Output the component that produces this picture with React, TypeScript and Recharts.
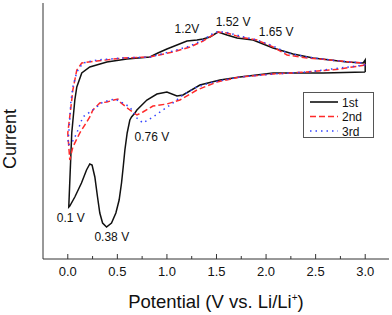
import React from "react";
import { LineChart, Line, XAxis, YAxis, Legend, ReferenceDot } from "recharts";

// potential (V) / current (arb. units), traced clockwise from 3.0 V
const firstCycle = [
  { v: 3.0, i: 0.67 }, { v: 2.576, i: 0.66 }, { v: 2.071, i: 0.66 }, { v: 1.737, i: 0.62 },
  { v: 1.535, i: 0.59 }, { v: 1.333, i: 0.54 }, { v: 1.162, i: 0.44 }, { v: 1.101, i: 0.43 },
  { v: 1.0, i: 0.47 }, { v: 0.899, i: 0.45 }, { v: 0.798, i: 0.39 }, { v: 0.697, i: 0.29 },
  { v: 0.677, i: 0.26 }, { v: 0.643, i: 0.22 }, { v: 0.626, i: 0.19 }, { v: 0.599, i: 0.06 },
  { v: 0.576, i: -0.11 }, { v: 0.559, i: -0.28 }, { v: 0.542, i: -0.44 }, { v: 0.518, i: -0.61 },
  { v: 0.485, i: -0.74 }, { v: 0.441, i: -0.84 }, { v: 0.391, i: -0.88 }, { v: 0.351, i: -0.84 },
  { v: 0.323, i: -0.74 }, { v: 0.3, i: -0.58 }, { v: 0.273, i: -0.38 }, { v: 0.245, i: -0.26 },
  { v: 0.222, i: -0.25 }, { v: 0.189, i: -0.31 }, { v: 0.138, i: -0.44 }, { v: 0.071, i: -0.58 },
  { v: 0.02, i: -0.67 }, { v: 0.01, i: -0.68 }, { v: 0.04, i: 0.06 }, { v: 0.071, i: 0.39 },
  { v: 0.091, i: 0.52 }, { v: 0.141, i: 0.66 }, { v: 0.222, i: 0.72 }, { v: 0.394, i: 0.77 },
  { v: 0.596, i: 0.8 }, { v: 0.828, i: 0.82 }, { v: 0.909, i: 0.86 }, { v: 1.0, i: 0.9 },
  { v: 1.202, i: 0.98 }, { v: 1.303, i: 0.99 }, { v: 1.364, i: 1.0 }, { v: 1.434, i: 1.02 },
  { v: 1.515, i: 1.07 }, { v: 1.606, i: 1.04 }, { v: 1.707, i: 1.01 }, { v: 1.869, i: 0.99 },
  { v: 2.071, i: 0.91 }, { v: 2.273, i: 0.85 }, { v: 2.475, i: 0.81 }, { v: 2.646, i: 0.79 },
  { v: 2.818, i: 0.77 }, { v: 2.98, i: 0.76 }, { v: 3.0, i: 0.79 }, { v: 3.0, i: 0.67 },
];

const secondCycle = [
  { v: 3.0, i: 0.74 }, { v: 2.747, i: 0.7 }, { v: 2.414, i: 0.67 }, { v: 2.071, i: 0.65 },
  { v: 1.737, i: 0.62 }, { v: 1.505, i: 0.57 }, { v: 1.303, i: 0.49 }, { v: 1.131, i: 0.39 },
  { v: 1.0, i: 0.35 }, { v: 0.859, i: 0.33 }, { v: 0.758, i: 0.27 }, { v: 0.697, i: 0.24 },
  { v: 0.626, i: 0.29 }, { v: 0.525, i: 0.37 }, { v: 0.505, i: 0.4 }, { v: 0.394, i: 0.37 },
  { v: 0.323, i: 0.36 }, { v: 0.253, i: 0.29 }, { v: 0.222, i: 0.22 }, { v: 0.121, i: 0.06 },
  { v: 0.051, i: -0.08 }, { v: 0.02, i: -0.21 }, { v: 0.0, i: 0.06 }, { v: 0.04, i: 0.39 },
  { v: 0.051, i: 0.49 }, { v: 0.091, i: 0.69 }, { v: 0.141, i: 0.76 }, { v: 0.293, i: 0.78 },
  { v: 0.556, i: 0.81 }, { v: 0.828, i: 0.82 }, { v: 1.061, i: 0.87 }, { v: 1.232, i: 0.92 },
  { v: 1.364, i: 0.98 }, { v: 1.515, i: 1.07 }, { v: 1.606, i: 1.06 }, { v: 1.737, i: 1.02 },
  { v: 1.909, i: 0.99 }, { v: 2.071, i: 0.92 }, { v: 2.212, i: 0.84 }, { v: 2.414, i: 0.81 },
  { v: 2.646, i: 0.79 }, { v: 2.848, i: 0.77 }, { v: 2.98, i: 0.76 }, { v: 3.0, i: 0.74 },
];

const thirdCycle = [
  { v: 3.0, i: 0.74 }, { v: 2.747, i: 0.71 }, { v: 2.414, i: 0.67 }, { v: 2.071, i: 0.65 },
  { v: 1.737, i: 0.62 }, { v: 1.465, i: 0.57 }, { v: 1.303, i: 0.52 }, { v: 1.162, i: 0.44 },
  { v: 1.061, i: 0.36 }, { v: 0.96, i: 0.29 }, { v: 0.859, i: 0.22 }, { v: 0.758, i: 0.16 },
  { v: 0.697, i: 0.21 }, { v: 0.626, i: 0.32 }, { v: 0.556, i: 0.36 }, { v: 0.475, i: 0.4 },
  { v: 0.354, i: 0.37 }, { v: 0.253, i: 0.29 }, { v: 0.152, i: 0.22 }, { v: 0.091, i: 0.06 },
  { v: 0.04, i: -0.04 }, { v: 0.0, i: -0.06 }, { v: 0.02, i: 0.19 }, { v: 0.03, i: 0.36 },
  { v: 0.051, i: 0.52 }, { v: 0.091, i: 0.67 }, { v: 0.152, i: 0.76 }, { v: 0.293, i: 0.79 },
  { v: 0.556, i: 0.81 }, { v: 0.828, i: 0.82 }, { v: 1.061, i: 0.88 }, { v: 1.232, i: 0.93 },
  { v: 1.364, i: 0.99 }, { v: 1.485, i: 1.07 }, { v: 1.586, i: 1.07 }, { v: 1.737, i: 1.03 },
  { v: 1.909, i: 0.99 }, { v: 2.071, i: 0.93 }, { v: 2.212, i: 0.86 }, { v: 2.414, i: 0.82 },
  { v: 2.646, i: 0.79 }, { v: 2.848, i: 0.77 }, { v: 2.98, i: 0.76 }, { v: 3.0, i: 0.74 },
];

const potentialTicks = [0, 0.25, 0.5, 0.75, 1, 1.25, 1.5, 1.75, 2, 2.25, 2.5, 2.75, 3];

const peakLabels = [
  { v: 1.202, i: 1.1, text: "1.2V" },
  { v: 1.667, i: 1.17, text: "1.52 V" },
  { v: 2.101, i: 1.07, text: "1.65 V" },
  { v: 0.848, i: 0.02, text: "0.76 V" },
  { v: 0.03, i: -0.79, text: "0.1 V" },
  { v: 0.444, i: -0.98, text: "0.38 V" },
];

const series = [
  { name: "1st", data: firstCycle, color: "#111111", dash: undefined as string | undefined },
  { name: "2nd", data: secondCycle, color: "#ff2a2a", dash: "6 3" },
  { name: "3rd", data: thirdCycle, color: "#3344ff", dash: "1.5 4" },
];

const font = '"Liberation Sans", Arial, sans-serif';
const axisColor = "#333";

function PotentialTick(props: any) {
  const { x, y, payload } = props;
  const major = Math.abs(payload.value * 2 - Math.round(payload.value * 2)) < 1e-6;
  return (
    <g>
      <line x1={x} x2={x} y1={y} y2={y - (major ? 5 : 3)} stroke={axisColor} />
      {major && (
        <text x={x} y={y + 17} textAnchor="middle" fontSize={13} fontFamily={font} fill="#111">
          {payload.value.toFixed(1)}
        </text>
      )}
    </g>
  );
}

function LegendBox() {
  return (
    <div style={{ width: 71, height: 46, border: "1px solid #555", boxSizing: "border-box", background: "#fff" }}>
      <svg width={69} height={44}>
        {series.map((s, k) => (
          <g key={s.name}>
            <line x1={6} x2={34} y1={9 + k * 14.5} y2={9 + k * 14.5} stroke={s.color} strokeWidth={1.6} strokeDasharray={s.dash} />
            <text x={38} y={13.5 + k * 14.5} fontSize={12} fontFamily={font} fill="#111">{s.name}</text>
          </g>
        ))}
      </svg>
    </div>
  );
}

export default function App() {
  return (
    <div style={{ position: "fixed", left: 0, top: 0, background: "#fff" }}>
      <LineChart width={392} height={315} margin={{ top: 3, right: 3, bottom: 0, left: 0 }}>
        <XAxis
          dataKey="v"
          type="number"
          domain={[-0.25, 3.24]}
          ticks={potentialTicks}
          interval={0}
          tick={<PotentialTick />}
          tickLine={false}
          tickSize={0}
          tickMargin={0}
          height={56}
          stroke={axisColor}
          allowDataOverflow
          label={({ viewBox }: any) => (
            <text x={viewBox.x + viewBox.width / 2} y={308} textAnchor="middle" fontSize={18.5} fontFamily={font} fill="#111">
              Potential (V vs. Li/Li<tspan dy={-7} fontSize={10}>+</tspan><tspan dy={7}>)</tspan>
            </text>
          )}
        />
        <XAxis xAxisId="top" orientation="top" type="number" domain={[-0.25, 3.24]} height={0} tick={false} tickLine={false} stroke={axisColor} />
        <YAxis
          type="number"
          domain={[-1.2, 1.36]}
          width={43}
          tick={false}
          tickLine={false}
          stroke={axisColor}
          allowDataOverflow
          label={({ viewBox }: any) => (
            <text
              transform={`translate(${viewBox.x + 16}, ${viewBox.y + viewBox.height / 2 + 8}) rotate(-90)`}
              textAnchor="middle"
              fontSize={18}
              fontFamily={font}
              fill="#111"
            >
              Current
            </text>
          )}
        />
        <YAxis yAxisId="right" orientation="right" type="number" domain={[-1.2, 1.36]} width={0} tick={false} tickLine={false} stroke={axisColor} />
        {series.map((s) => (
          <Line
            key={s.name}
            name={s.name}
            data={s.data}
            dataKey="i"
            type="linear"
            stroke={s.color}
            strokeWidth={1.5}
            strokeDasharray={s.dash}
            dot={false}
            activeDot={false}
            isAnimationActive={false}
          />
        ))}
        {peakLabels.map((p) => (
          <ReferenceDot
            key={p.text}
            x={p.v}
            y={p.i}
            r={0}
            shape={(props: any) => (
              <text x={props.cx} y={props.cy + 4} textAnchor="middle" fontSize={12} fontFamily={font} fill="#111">
                {p.text}
              </text>
            )}
          />
        ))}
        <Legend
          layout="horizontal"
          verticalAlign="middle"
          align="center"
          content={() => <LegendBox />}
          wrapperStyle={{ position: "absolute", left: 303, top: 92, width: 71, height: 46 }}
        />
      </LineChart>
    </div>
  );
}
